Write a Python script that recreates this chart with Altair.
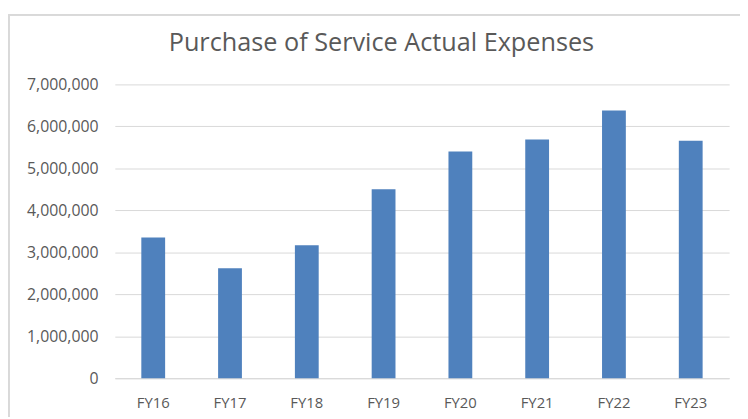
import altair as alt
import pandas as pd

years = ["FY16", "FY17", "FY18", "FY19", "FY20", "FY21", "FY22", "FY23"]
expenses = [3350000, 2620000, 3170000, 4500000, 5400000, 5690000, 6380000, 5660000]
y_ticks = [0, 1000000, 2000000, 3000000, 4000000, 5000000, 6000000, 7000000]

df = pd.DataFrame({"year": years, "expense": expenses})

W, H = 621, 297
PAD = {"left": 108, "top": 75, "right": 11, "bottom": 39}
FONT = "Open Sans"
GREY = "#595959"
LINE = "#d9d9d9"

bars = alt.Chart(df).mark_bar(color="#4f81bd").encode(
    x=alt.X("year:N", sort=years, title=None,
            scale=alt.Scale(paddingInner=0.69, paddingOuter=0.345),
            axis=alt.Axis(labelAngle=0, ticks=False, domainColor=LINE, domainWidth=1,
                          labelPadding=18, labelFontSize=15, labelColor=GREY,
                          labelFont=FONT)),
    y=alt.Y("expense:Q", title=None,
            scale=alt.Scale(domain=[0, 7000000], nice=False),
            axis=alt.Axis(values=y_ticks, format=",.0f", domain=False, ticks=False,
                          gridColor=LINE, gridWidth=1, labelPadding=17,
                          labelFontSize=16, labelColor=GREY, labelFont=FONT)),
)

border_top = alt.Chart(df).mark_rule(color=LINE, strokeWidth=1.5).encode(
    x=alt.value(-PAD["left"] + 0.5), x2=alt.value(W + PAD["right"]),
    y=alt.value(-PAD["top"] + 4.5))
border_left = alt.Chart(df).mark_rule(color=LINE, strokeWidth=1.5).encode(
    x=alt.value(-PAD["left"] + 0.75),
    y=alt.value(-PAD["top"] + 4.5), y2=alt.value(H + PAD["bottom"]))

chart = alt.layer(border_top, border_left, bars).properties(
    width=W, height=H,
    title=alt.TitleParams("Purchase of Service Actual Expenses", fontSize=25.5,
                          font=FONT, fontWeight="normal", color=GREY,
                          anchor="middle", baseline="alphabetic",
                          dx=-41, dy=63, offset=0),
    autosize=alt.AutoSizeParams(type="none"),
    padding=PAD,
).configure_view(stroke=None)

chart.save("out.html", embed_options={"renderer": "svg", "actions": False})
